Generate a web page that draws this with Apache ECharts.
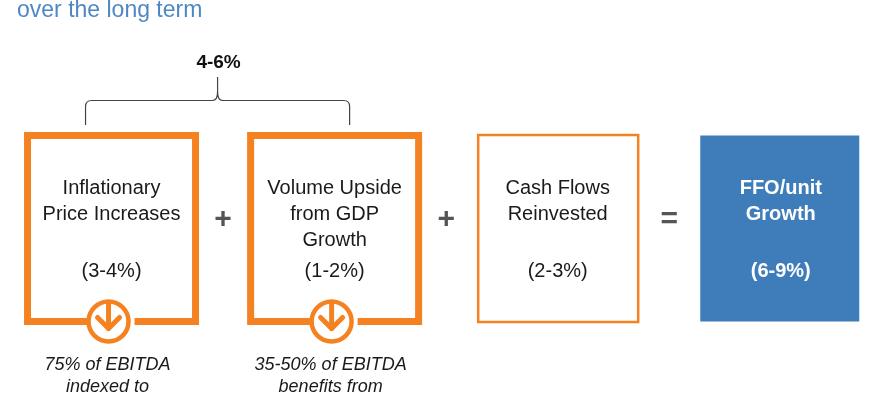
<!DOCTYPE html>
<html lang="en">
<head>
    <meta charset="UTF-8">
    <title>FFO/unit Growth</title>
    <script src="https://cdn.jsdelivr.net/npm/echarts@6/dist/echarts.min.js"></script>
    <style>
        html, body { margin: 0; padding: 0; background: #fff; }
        #chart { width: 870px; height: 400px; }
    </style>
</head>
<body>
<div id="chart"></div>
<script>
    'use strict';
    // diagram content
    const boxTitles = ['Inflationary\nPrice Increases', 'Volume Upside\nfrom GDP\nGrowth', 'Cash Flows\nReinvested', 'FFO/unit\nGrowth'];
    const boxRanges = ['(3-4%)', '(1-2%)', '(2-3%)', '(6-9%)'];
    const boxKinds = ['driver', 'driver', 'other', 'result'];
    const boxNotes = ['75% of EBITDA\nindexed to', '35-50% of EBITDA\nbenefits from', '', ''];
    const operators = ['+', '+', '='];
    const braceSpan = [0, 1];
    const braceLabel = '4-6%';
    const headerText = 'over the long term';

    const ORANGE = '#f58220';
    const BLUE = '#3e7db9';
    const FONT = '"Liberation Sans", Arial, sans-serif';

    // box geometry (y in axis units, axis maps 1:1 to pixels)
    const TOP = 135.5, BOTTOM = 321.5;

    function boxItem(params, api) {
        let i = api.value(0);
        let kind = boxKinds[i];
        let cx = api.coord([i, 0])[0];
        let yt = api.coord([i, TOP])[1];
        let yb = api.coord([i, BOTTOM])[1];
        let children = [];
        let textFill = '#1a1a1a', weight = 'normal';

        if (kind === 'driver') {
            let hw = 84, g = 23;
            children.push({
                type: 'polyline',
                shape: { points: [[cx - g, yb], [cx - hw, yb], [cx - hw, yt], [cx + hw, yt], [cx + hw, yb], [cx + g, yb]] },
                style: { stroke: ORANGE, lineWidth: 7, fill: null, lineJoin: 'miter' }
            });
            children.push({
                type: 'circle',
                shape: { cx: cx - 3, cy: yb, r: 20 },
                style: { fill: '#fff', stroke: ORANGE, lineWidth: 4.5 }
            });
            children.push({
                type: 'polyline',
                shape: { points: [[cx - 3, yb - 17], [cx - 3, yb + 7]] },
                style: { stroke: ORANGE, lineWidth: 5, lineCap: 'round', fill: null }
            });
            children.push({
                type: 'polyline',
                shape: { points: [[cx - 14, yb - 4], [cx - 3, yb + 7], [cx + 8, yb - 4]] },
                style: { stroke: ORANGE, lineWidth: 5, lineCap: 'round', lineJoin: 'round', fill: null }
            });
            if (boxNotes[i]) {
                children.push({
                    type: 'text',
                    style: {
                        text: boxNotes[i], x: cx - 4, y: 354, align: 'center', verticalAlign: 'top',
                        fontSize: 18, fontStyle: 'italic', fontFamily: FONT, fill: '#1a1a1a', lineHeight: 22
                    }
                });
            }
        } else if (kind === 'other') {
            children.push({
                type: 'rect',
                shape: { x: cx - 79.5, y: yt - 0.5, width: 160, height: yb - yt + 1 },
                style: { stroke: ORANGE, lineWidth: 2.5, fill: null }
            });
        } else {
            children.push({
                type: 'rect',
                shape: { x: cx - 80.5, y: yt, width: 159, height: yb - yt },
                style: { fill: BLUE }
            });
            textFill = '#fff';
            weight = 'bold';
        }

        children.push({
            type: 'text',
            style: {
                text: boxTitles[i], x: cx, y: 175, align: 'center', verticalAlign: 'top',
                fontSize: 20, fontWeight: weight, fontFamily: FONT, fill: textFill, lineHeight: 26
            }
        });
        children.push({
            type: 'text',
            style: {
                text: boxRanges[i], x: cx, y: 271, align: 'center', verticalAlign: 'middle',
                fontSize: 20, fontWeight: weight, fontFamily: FONT, fill: textFill
            }
        });
        return { type: 'group', children: children };
    }

    function operatorItem(params, api) {
        let i = api.value(0);
        let p = api.coord([i + 0.5, 220]);
        return {
            type: 'text',
            style: {
                text: operators[i], x: p[0], y: p[1], align: 'center', verticalAlign: 'middle',
                fontSize: 30, fontWeight: 'bold', fontFamily: FONT, fill: '#555'
            }
        };
    }

    function braceItem(params, api) {
        let l = api.coord([api.value(0), 0])[0] - 26;
        let r = api.coord([api.value(1), 0])[0] + 15;
        let m = (l + r) / 2;
        let yEnd = 125, yH = 100.5, yTip = 77;
        let d = 'M' + l + ',' + yEnd + ' L' + l + ',' + (yH + 6) +
            ' Q' + l + ',' + yH + ' ' + (l + 6) + ',' + yH +
            ' L' + (m - 5) + ',' + yH +
            ' Q' + m + ',' + yH + ' ' + m + ',' + (yH - 9) +
            ' L' + m + ',' + yTip +
            ' M' + m + ',' + (yH - 9) +
            ' Q' + m + ',' + yH + ' ' + (m + 5) + ',' + yH +
            ' L' + (r - 6) + ',' + yH +
            ' Q' + r + ',' + yH + ' ' + r + ',' + (yH + 6) +
            ' L' + r + ',' + yEnd;
        return {
            type: 'group',
            children: [
                { type: 'path', shape: { pathData: d }, style: { stroke: '#444', lineWidth: 1.2, fill: null } },
                {
                    type: 'text',
                    style: {
                        text: braceLabel, x: m + 1, y: 63, align: 'center', verticalAlign: 'middle',
                        fontSize: 19, fontWeight: 'bold', fontFamily: FONT, fill: '#111'
                    }
                }
            ]
        };
    }

    let myChart = echarts.init(document.getElementById('chart'));
    let option = {
        animation: false,
        title: {
            text: headerText,
            left: 17,
            top: -1,
            padding: 0,
            textStyle: { color: '#4f87c5', fontSize: 23, fontWeight: 'normal', fontFamily: FONT }
        },
        grid: { left: 0, right: 0, top: 0, bottom: 0 },
        // box centres sit one unit apart, about 223 px
        xAxis: { type: 'value', min: -0.5, max: 3.4, show: false },
        yAxis: { type: 'value', min: 0, max: 400, inverse: true, show: false },
        series: [
            {
                type: 'custom',
                renderItem: boxItem,
                data: boxTitles.map(function (t, i) { return [i]; })
            },
            {
                type: 'custom',
                renderItem: operatorItem,
                data: operators.map(function (o, i) { return [i]; })
            },
            {
                type: 'custom',
                renderItem: braceItem,
                data: [braceSpan]
            }
        ]
    };
    myChart.setOption(option);
</script>
</body>
</html>
